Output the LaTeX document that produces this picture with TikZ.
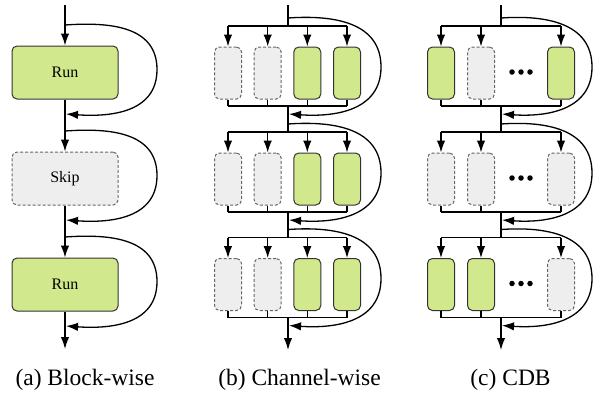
\documentclass[tikz,border=0pt]{standalone}
\usepackage{fontspec}
\setmainfont{Liberation Serif}
\usetikzlibrary{arrows.meta}
\definecolor{rungreen}{HTML}{D1E98C}
\definecolor{skipgray}{HTML}{EEEEEE}
\begin{document}
\begin{tikzpicture}[x=1pt,y=-1pt,
  line/.style={line width=1.3pt, black},
  arr/.style={line, -{Latex[length=12pt,width=8.5pt]}},
  runbox/.style={draw=black!80, fill=rungreen, line width=1pt, rounded corners=5pt},
  skipbox/.style={draw=black!60, fill=skipgray, line width=1pt, rounded corners=5pt, dash pattern=on 3pt off 2pt},
  wide/.style={minimum width=106pt, minimum height=53pt, inner sep=0pt, font=\fontsize{16}{18}\selectfont},
  narrow/.style={minimum width=27pt, minimum height=52pt, inner sep=0pt},
  captxt/.style={font=\fontsize{23.5}{27}\selectfont, anchor=base, inner sep=0pt},
  dotm/.style={circle, fill=black, inner sep=0pt, minimum size=5.5pt}]
\useasboundingbox (0,0) rectangle (594,392);

% ---------- (a) Block-wise ----------
\node[runbox,wide]  (a1) at (65,72.5)  {Run};
\node[skipbox,wide] (a2) at (65,178.5) {Skip};
\node[runbox,wide]  (a3) at (65,284.5) {Run};
\coordinate (a0) at (65,5);
\coordinate (aend) at (65,349);
\draw[arr] (a0) -- (a1.north);
\draw[arr] (a1.south) -- (a2.north);
\draw[arr] (a2.south) -- (a3.north);
\draw[arr] (a3.south) -- (aend);
\foreach \k/\yc in {1/72.5,2/178.5,3/284.5}{
  \coordinate (as\k) at (65,\yc-47.5);
  \coordinate (ax\k) at (157,\yc-3);
  \coordinate (ar\k) at (66,\yc+41.5);
  \draw[arr] (as\k) to[out=4,in=90,looseness=1.1] (ax\k) to[out=-90,in=-4,looseness=1.1] (ar\k);
}
\node[captxt] (capa) at (85,385) {(a) Block-wise};

% ---------- (b) Channel-wise ----------
\node[skipbox,narrow] (b11) at (228,73) {};
\node[skipbox,narrow] (b12) at (267.7,73) {};
\node[runbox,narrow]  (b13) at (307.3,73) {};
\node[runbox,narrow]  (b14) at (347,73) {};
\node[skipbox,narrow] (b21) at (228,179) {};
\node[skipbox,narrow] (b22) at (267.7,179) {};
\node[runbox,narrow]  (b23) at (307.3,179) {};
\node[runbox,narrow]  (b24) at (347,179) {};
\node[skipbox,narrow] (b31) at (228,284.5) {};
\node[skipbox,narrow] (b32) at (267.7,284.5) {};
\node[runbox,narrow]  (b33) at (307.3,284.5) {};
\node[runbox,narrow]  (b34) at (347,284.5) {};
\coordinate (b0) at (288,5);
\coordinate (bend) at (288,350);
\foreach \k/\yc in {1/73,2/179,3/284.5}{
  \coordinate (bt\k) at (288,\yc-47);
  \coordinate (bb\k) at (288,\yc+33);
  \coordinate (bs\k) at (288,\yc-55);
  \coordinate (bx\k) at (381,\yc-6);
  \coordinate (br\k) at (289,\yc+41);
  \draw[line] (b\k1.north |- bt\k) -- (b\k4.north |- bt\k);
  \draw[line] (b\k1.south |- bb\k) -- (b\k4.south |- bb\k);
  \foreach \j in {1,2,3,4}{
    \draw[arr] (b\k\j.north |- bt\k) -- (b\k\j.north);
    \draw[line] (b\k\j.south) -- (b\k\j.south |- bb\k);
  }
  \draw[arr] (bs\k) to[out=4,in=90,looseness=1.1] (bx\k) to[out=-90,in=-4,looseness=1.1] (br\k);
}
\draw[line] (b0) -- (bt1);
\draw[line] (bb1) -- (bt2);
\draw[line] (bb2) -- (bt3);
\draw[arr] (bb3) -- (bend);
\node[captxt] (capb) at (299.5,385) {(b) Channel-wise};

% ---------- (c) CDB ----------
\node[runbox,narrow]  (c11) at (441,73) {};
\node[skipbox,narrow] (c12) at (481,73) {};
\node[runbox,narrow]  (c13) at (561,73) {};
\node[skipbox,narrow] (c21) at (441,179) {};
\node[skipbox,narrow] (c22) at (481,179) {};
\node[skipbox,narrow] (c23) at (561,179) {};
\node[runbox,narrow]  (c31) at (441,284.5) {};
\node[runbox,narrow]  (c32) at (481,284.5) {};
\node[skipbox,narrow] (c33) at (561,284.5) {};
\coordinate (c0) at (501,5);
\coordinate (cend) at (501,350);
\foreach \k/\yc in {1/73,2/179,3/284.5}{
  \coordinate (ct\k) at (501,\yc-47);
  \coordinate (cb\k) at (501,\yc+33);
  \coordinate (cs\k) at (501,\yc-55);
  \coordinate (cx\k) at (592,\yc-6);
  \coordinate (cr\k) at (502,\yc+41);
  \draw[line] (c\k1.north |- ct\k) -- (c\k3.north |- ct\k);
  \draw[line] (c\k1.south |- cb\k) -- (c\k3.south |- cb\k);
  \foreach \j in {1,2,3}{
    \draw[arr] (c\k\j.north |- ct\k) -- (c\k\j.north);
    \draw[line] (c\k\j.south) -- (c\k\j.south |- cb\k);
  }
  \node[dotm] (cd\k a) at (512,\yc-1) {};
  \node[dotm] (cd\k b) at (521,\yc-1) {};
  \node[dotm] (cd\k c) at (530,\yc-1) {};
  \draw[arr] (cs\k) to[out=4,in=90,looseness=1.1] (cx\k) to[out=-90,in=-4,looseness=1.1] (cr\k);
}
\draw[line] (c0) -- (ct1);
\draw[line] (cb1) -- (ct2);
\draw[line] (cb2) -- (ct3);
\draw[arr] (cb3) -- (cend);
\node[captxt] (capc) at (510.5,385) {(c) CDB};
\end{tikzpicture}
\end{document}
